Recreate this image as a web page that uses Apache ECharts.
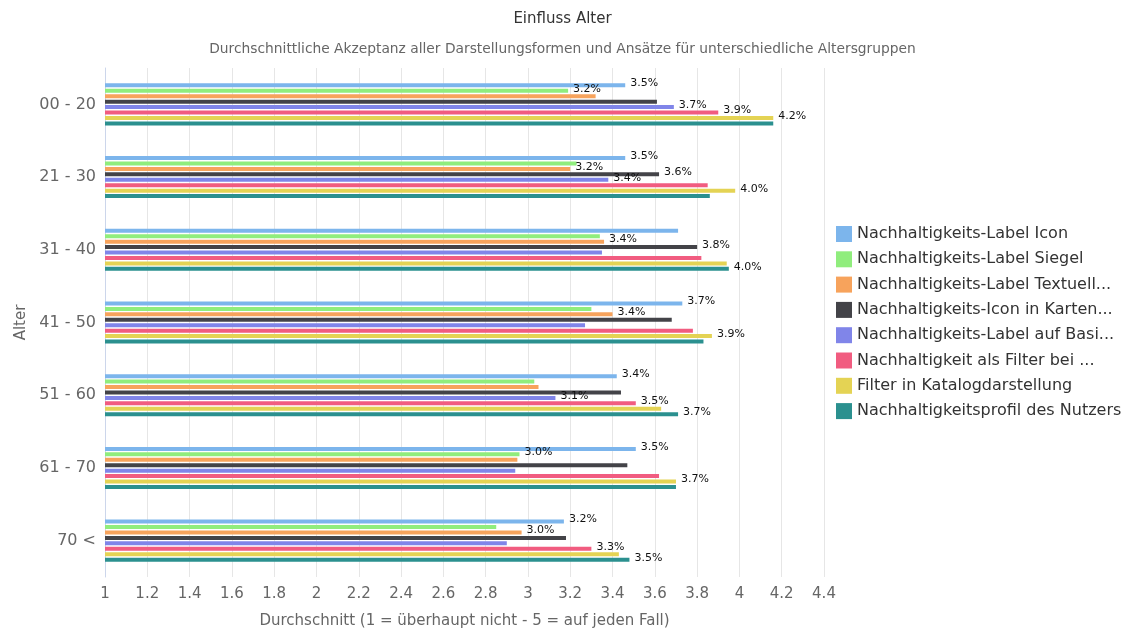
<!DOCTYPE html>
<html>
<head>
<meta charset="utf-8">
<script src="https://cdn.jsdelivr.net/npm/echarts@6/dist/echarts.min.js"></script>
<style>
  html, body { margin: 0; padding: 0; background: #fff; }
  #chart { width: 1125px; height: 629px; }
</style>
</head>
<body>
<div id="chart"></div>
<script>
// Age groups (top to bottom)
const ageGroups = ['00 - 20', '21 - 30', '31 - 40', '41 - 50', '51 - 60', '61 - 70', '70 <'];

// Series names as listed in the legend
const seriesNames = [
  'Nachhaltigkeits-Label Icon',
  'Nachhaltigkeits-Label Siegel',
  'Nachhaltigkeits-Label Textuell...',
  'Nachhaltigkeits-Icon in Karten...',
  'Nachhaltigkeits-Label auf Basi...',
  'Nachhaltigkeit als Filter bei ...',
  'Filter in Katalogdarstellung',
  'Nachhaltigkeitsprofil des Nutzers'
];

// Average acceptance per age group (1 = not at all, 5 = definitely)
const labelIcon      = [3.46, 3.46, 3.71, 3.73, 3.42, 3.51, 3.17];
const labelSiegel    = [3.19, 3.23, 3.34, 3.30, 3.03, 2.96, 2.85];
const labelTextuell  = [3.32, 3.20, 3.36, 3.40, 3.05, 2.95, 2.97];
const iconKarten     = [3.61, 3.62, 3.80, 3.68, 3.44, 3.47, 3.18];
const labelBasis     = [3.69, 3.38, 3.35, 3.27, 3.13, 2.94, 2.90];
const filterBei      = [3.90, 3.85, 3.82, 3.78, 3.51, 3.62, 3.30];
const filterKatalog  = [4.16, 3.98, 3.94, 3.87, 3.63, 3.70, 3.43];
const nutzerprofil   = [4.16, 3.86, 3.95, 3.83, 3.71, 3.70, 3.48];

const seriesValues = [labelIcon, labelSiegel, labelTextuell, iconKarten,
                      labelBasis, filterBei, filterKatalog, nutzerprofil];

// Age-group indices whose value is annotated, per series
const labelledGroups = [
  [0, 1, 3, 4, 5, 6],
  [0, 5],
  [1, 2, 3, 6],
  [1, 2],
  [0, 1, 4],
  [0, 4, 6],
  [0, 1, 3, 5],
  [2, 4, 6]
];

const palette = ['#7cb5ec', '#90ed7d', '#f7a35c', '#434348',
                 '#8085e9', '#f15c80', '#e4d354', '#2b908f'];

const FONT = '"DejaVu Sans", sans-serif';

const series = seriesNames.map((name, s) => ({
  name: name,
  type: 'bar',
  barWidth: 4,
  barGap: '36%',
  itemStyle: { color: palette[s] },
  label: {
    show: false,
    position: 'right',
    distance: 5,
    offset: [0, -2],
    fontFamily: FONT,
    fontSize: 11,
    color: '#111',
    formatter: p => p.value.toFixed(1) + '%'
  },
  data: seriesValues[s].map((v, g) => ({
    value: v,
    label: { show: labelledGroups[s].includes(g) }
  }))
}));

const chart = echarts.init(document.getElementById('chart'), null, { renderer: 'canvas' });
chart.setOption({
  animation: false,
  backgroundColor: '#fff',
  color: palette,
  title: [
    {
      text: 'Einfluss Alter',
      left: 'center',
      top: 7,
      textStyle: { fontFamily: FONT, fontSize: 15, fontWeight: 'normal', color: '#333' }
    },
    {
      text: 'Durchschnittliche Akzeptanz aller Darstellungsformen und Ansätze für unterschiedliche Altersgruppen',
      left: 'center',
      top: 37,
      textStyle: { fontFamily: FONT, fontSize: 13.8, fontWeight: 'normal', color: '#666' }
    }
  ],
  legend: {
    orient: 'vertical',
    left: 831,
    top: 221,
    itemWidth: 16,
    itemHeight: 16,
    itemGap: 9.3,
    icon: 'rect',
    data: seriesNames,
    textStyle: { fontFamily: FONT, fontSize: 16, color: '#333' }
  },
  grid: { left: 105, right: 301, top: 68, bottom: 52, containLabel: false, outerBoundsMode: 'none' },
  xAxis: {
    type: 'value',
    min: 1,
    max: 4.4,
    interval: 0.2,
    name: 'Durchschnitt (1 = überhaupt nicht - 5 = auf jeden Fall)',
    nameLocation: 'middle',
    nameGap: 37,
    nameTextStyle: { fontFamily: FONT, fontSize: 15, color: '#666' },
    axisLine: { show: false },
    axisTick: { show: false },
    axisLabel: { fontFamily: FONT, fontSize: 15, color: '#666', margin: 10 },
    splitLine: { show: true, lineStyle: { color: '#e6e6e6', width: 1 } }
  },
  yAxis: {
    type: 'category',
    inverse: true,
    data: ageGroups,
    name: 'Alter',
    nameLocation: 'middle',
    nameGap: 76,
    nameTextStyle: { fontFamily: FONT, fontSize: 15, color: '#666' },
    axisLine: { show: true, lineStyle: { color: '#ccd6eb' } },
    axisTick: { show: false },
    axisLabel: { fontFamily: FONT, fontSize: 16, color: '#666', margin: 9 }
  },
  series: series
});
</script>
</body>
</html>
